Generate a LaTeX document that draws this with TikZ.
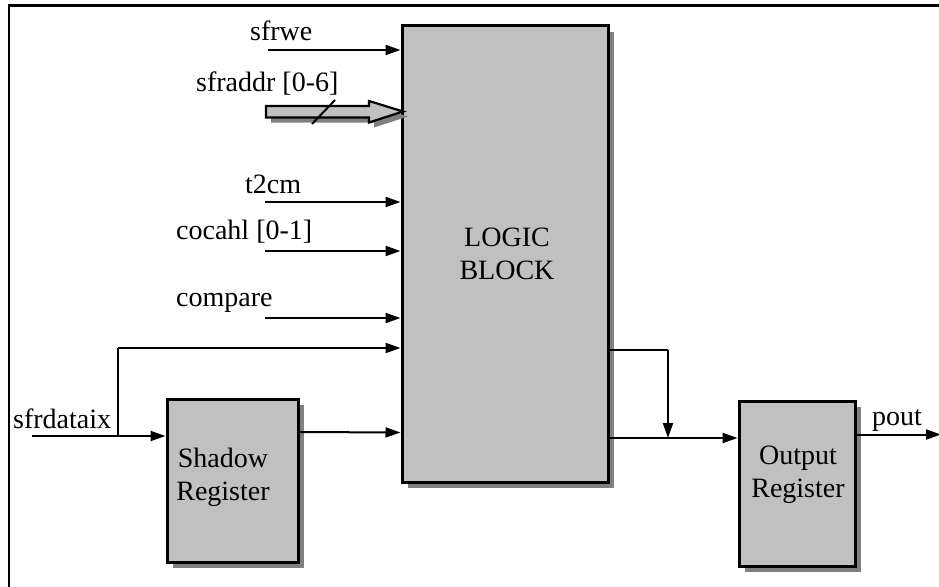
\documentclass[tikz,border=0pt]{standalone}
\usepackage{fontspec}
\setmainfont{Liberation Serif}
\usetikzlibrary{arrows.meta,shadows}
\definecolor{boxgray}{HTML}{C0C0C0}
\definecolor{shadegray}{HTML}{808080}
\tikzset{
  blk/.style={draw=black, line width=3pt, fill=boxgray, rectangle, inner sep=0pt,
    drop shadow={shadow xshift=6pt, shadow yshift=-6pt, fill=shadegray, opacity=1}},
  lbl/.style={font=\fontsize{28}{33}\selectfont, inner sep=0pt, anchor=base west},
  btxt/.style={font=\fontsize{28}{33}\selectfont, align=center, inner sep=0pt},
  wire/.style={line width=2pt},
  arr/.style={wire, -{Triangle[length=15pt,width=10pt]}},
}
\begin{document}
\begin{tikzpicture}[x=1pt,y=-1pt]
\useasboundingbox (0,0) rectangle (939,586);
% frame
\draw[line width=2.6pt] (9,590) -- (9,5.3) -- (945,5.3);
% blocks
\node[blk, minimum width=206pt, minimum height=456pt] (logic) at (505,254) {};
\node[btxt] (logictxt) at (507,254) {LOGIC\\BLOCK};
\node[blk, minimum width=131pt, minimum height=163pt] (shadowreg) at (232.5,480.5) {};
\node[btxt] (shadowtxt) at (223,477) {Shadow\\Register};
\node[blk, minimum width=116pt, minimum height=165pt] (outreg) at (797,483.5) {};
\node[btxt] (outtxt) at (798,475) {Output\\Register};
% labels
\node[lbl] (lsfrwe) at (250,41) {sfrwe};
\node[lbl] (lsfraddr) at (196,91) {sfraddr [0-6]};
\node[lbl] (lt2cm) at (245,193) {t2cm};
\node[lbl] (lcocahl) at (176,239) {cocahl [0-1]};
\node[lbl] (lcompare) at (176,306) {compare};
\node[lbl] (lsfrdataix) at (13,428) {sfrdataix};
\node[lbl] (lpout) at (872,425) {pout};
% free ends
\coordinate (sfrwe) at (268,50);
\coordinate (t2cm) at (265,202);
\coordinate (cocahl) at (265,251);
\coordinate (compare) at (265,318);
\coordinate (din) at (32,436);
\coordinate (split) at (118,436);
\coordinate (splitup) at (118,348);
\coordinate (bus) at (266,111.5);
\coordinate (pout) at (941,434.5);
\coordinate (fbk) at (668,350);
\coordinate (fbkdn) at (668,438);
% simple inputs
\draw[arr] (sfrwe) -- (sfrwe -| logic.west);
\draw[arr] (t2cm) -- (t2cm -| logic.west);
\draw[arr] (cocahl) -- (cocahl -| logic.west);
\draw[arr] (compare) -- (compare -| logic.west);
% bus arrow
\fill[shadegray] ([shift={(5,5)}]bus) ++(0,-5.5) -- ++(103,0) -- ++(0,-5) -- ++(34,10.5) -- ++(-34,11) -- ++(0,-5) -- ++(-103,0) -- cycle;
\filldraw[fill=boxgray, draw=black, line width=2.2pt, line join=miter] (bus) ++(0,-5.5) -- ++(103,0) -- ++(0,-5) -- ++(34,10.5) -- ++(-34,11) -- ++(0,-5) -- ++(-103,0) -- cycle;
\draw[wire] (312,124) -- (335,100);
% sfrdataix
\draw[arr] (din) -- (din -| shadowreg.west);
\draw[wire] (split) -- (splitup);
\draw[arr] (splitup) -- (splitup -| logic.west);
\draw[arr] (shadowreg.east |- 0,432) -- (logic.west |- 0,432.5);
% outputs
\draw[wire] (logic.east |- fbk) -- (fbk);
\draw[arr] (fbk) -- (fbkdn);
\draw[arr] (logic.east |- fbkdn) -- (outreg.west |- fbkdn);
\draw[arr] (outreg.east |- pout) -- (pout);
\end{tikzpicture}
\end{document}
